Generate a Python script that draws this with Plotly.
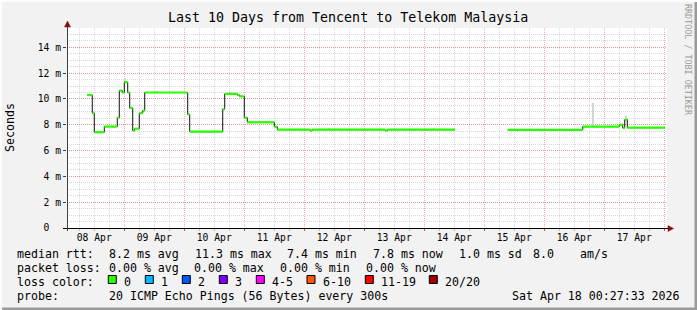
import plotly.graph_objects as go

# ---------------- data ----------------
# median RTT (ms) as step segments: value holds from time[i] to time[i+1]; None = no data
seg_times = [
    "2026-04-08 00:58", "2026-04-08 01:30", "2026-04-08 09:12", "2026-04-08 11:12",
    "2026-04-08 12:00", "2026-04-08 16:00", "2026-04-08 21:12", "2026-04-08 22:00",
    "2026-04-08 23:12", "2026-04-09 00:00", "2026-04-09 01:22", "2026-04-09 02:10",
    "2026-04-09 03:22", "2026-04-09 04:10", "2026-04-09 06:00", "2026-04-09 07:22",
    "2026-04-09 08:10", "2026-04-10 01:22", "2026-04-10 02:10", "2026-04-10 15:22",
    "2026-04-10 16:10", "2026-04-10 21:12", "2026-04-10 22:10", "2026-04-11 00:00",
    "2026-04-11 01:12", "2026-04-11 12:00", "2026-04-11 13:12", "2026-04-12 02:18",
    "2026-04-12 03:12", "2026-04-13 08:18", "2026-04-13 09:12", "2026-04-14 12:18",
    "2026-04-15 09:22", "2026-04-16 15:22", "2026-04-17 06:00", "2026-04-17 07:22",
    "2026-04-17 08:10", "2026-04-17 09:12", "2026-04-18 00:18",
]
seg_values = [
    10.0, None, 10.3, 8.9,
    7.42, 7.86, 8.55, 10.65,
    10.5, 11.3, 10.5, 9.3,
    7.55, 7.7, 8.9, 9.1,
    10.5, 8.8, 7.47, 9.2,
    10.4, 10.3, 10.2, 8.55,
    8.19, 7.85, 7.62, 7.55,
    7.62, 7.55, 7.62, None,
    7.6, 7.86, 8.0, 7.75,
    8.4, 7.78,
]

# smoke (spread of pings) – light grey bars
smoke_times = ["2026-04-09 00:30", "2026-04-16 19:30", "2026-04-17 08:40",
               "2026-04-09 13:00", "2026-04-12 10:00", "2026-04-13 12:00", "2026-04-14 04:00"]
smoke_lo = [11.3, 7.86, 8.4, 10.5, 7.62, 7.62, 7.62]
smoke_hi = [11.65, 9.65, 8.65, 10.6, 7.72, 7.74, 7.72]

y_tickvals = [0, 2, 4, 6, 8, 10, 12, 14]
y_ticktext = ["0\u00a0\u00a0", "2 m", "4 m", "6 m", "8 m", "10 m", "12 m", "14 m"]

title = "Last 10 Days from Tencent to Telekom Malaysia"
loss_labels = ["0", "1", "2", "3", "4-5", "6-10", "11-19", "20/20"]
loss_colors = ["#26ff00", "#00b8ff", "#0059ff", "#7e00ff", "#ff00ff", "#ff5500", "#ff0000", "#a10000"]

# ---------------- geometry helpers ----------------
W, H = 697, 310
L, R, T, B = 67, 667, 28, 228
def xp(px): return (px - L) / (R - L)
def yp(py): return (B - py) / (B - T)

MONO = "DejaVu Sans Mono"
MGRID = "rgba(232,72,72,0.45)"
GRID = "rgba(143,143,143,0.35)"
DASH = "1px,1px"

# ---------------- traces ----------------
fig = go.Figure()

# smoke
fig.add_trace(go.Bar(
    x=smoke_times, y=[h - l for h, l in zip(smoke_hi, smoke_lo)], base=smoke_lo,
    width=[2400000] * len(smoke_times), marker=dict(color="#d4d4d4", line=dict(width=0)),
    hoverinfo="skip", showlegend=False))

# black step line (with verticals)
bx, by = [], []
for i, v in enumerate(seg_values):
    t0, t1 = seg_times[i], seg_times[i + 1]
    if v is None:
        bx.append(None); by.append(None)
        continue
    bx += [t0, t1]; by += [v, v]
fig.add_trace(go.Scatter(x=bx, y=by, mode="lines", line=dict(color="#111111", width=1),
                         hoverinfo="skip", showlegend=False, connectgaps=False))

# green horizontal segments
gx, gy = [], []
for i, v in enumerate(seg_values):
    if v is None:
        continue
    gx += [seg_times[i], seg_times[i + 1], None]
    gy += [v, v, None]
fig.add_trace(go.Scatter(x=gx, y=gy, mode="lines", line=dict(color=loss_colors[0], width=2.2),
                         hoverinfo="skip", showlegend=False, connectgaps=False))

# ---------------- layout ----------------
shapes = []
# frame
shapes.append(dict(type="rect", xref="paper", yref="paper", x0=xp(0), x1=xp(W), y0=yp(H), y1=yp(0),
                   line=dict(width=0), fillcolor="#f2f2f2", layer="below"))
shapes.append(dict(type="rect", xref="paper", yref="paper", x0=xp(L), x1=xp(R), y0=yp(B), y1=yp(T),
                   line=dict(width=0), fillcolor="#ffffff", layer="below"))
shapes.append(dict(type="rect", xref="paper", yref="paper", x0=xp(694.5), x1=xp(697), y0=yp(310), y1=yp(0),
                   line=dict(width=0), fillcolor="#9a9a9a"))
shapes.append(dict(type="rect", xref="paper", yref="paper", x0=xp(0), x1=xp(697), y0=yp(310), y1=yp(307.5),
                   line=dict(width=0), fillcolor="#9a9a9a"))
shapes.append(dict(type="rect", xref="paper", yref="paper", x0=xp(0), x1=xp(697), y0=yp(2), y1=yp(0),
                   line=dict(width=0), fillcolor="#fcfcfc"))
shapes.append(dict(type="rect", xref="paper", yref="paper", x0=xp(0), x1=xp(2), y0=yp(310), y1=yp(0),
                   line=dict(width=0), fillcolor="#fcfcfc"))
# axes lines
shapes.append(dict(type="line", xref="paper", yref="paper", x0=xp(63), x1=xp(669), y0=yp(228.5), y1=yp(228.5),
                   line=dict(color="#000000", width=1)))
shapes.append(dict(type="line", xref="paper", yref="paper", x0=xp(67.5), x1=xp(67.5), y0=yp(231), y1=yp(25),
                   line=dict(color="#404040", width=1)))
# arrowheads
ac = "#7f1010"
shapes.append(dict(type="path", xref="paper", yref="paper",
                   path=f"M {xp(668)},{yp(225.5)} L {xp(673.5)},{yp(228.5)} L {xp(668)},{yp(231.5)} Z",
                   fillcolor=ac, line=dict(color=ac, width=0.5)))
shapes.append(dict(type="path", xref="paper", yref="paper",
                   path=f"M {xp(64.5)},{yp(27)} L {xp(67.5)},{yp(21)} L {xp(70.5)},{yp(27)} Z",
                   fillcolor=ac, line=dict(color=ac, width=0.5)))

annotations = []
def text(px, py, s, size=11.6, anchor="left", color="#000000"):
    annotations.append(dict(x=xp(px), y=yp(py), xref="paper", yref="paper", text=s, showarrow=False,
                            xanchor=anchor, yanchor="middle", borderpad=0,
                            font=dict(family=MONO, size=size, color=color)))

text(348, 18, title, size=13.3, anchor="center")
annotations.append(dict(x=xp(10), y=yp(128), xref="paper", yref="paper", text="Seconds", showarrow=False,
                        textangle=-90, xanchor="center", yanchor="middle",
                        font=dict(family=MONO, size=11.6, color="#000000")))
annotations.append(dict(x=xp(688), y=yp(60), xref="paper", yref="paper", text="RRDTOOL / TOBI OETIKER",
                        showarrow=False, textangle=90, xanchor="center", yanchor="middle",
                        font=dict(family=MONO, size=8.4, color="#9a9a9a")))

# legend lines
text(16, 254, "median rtt:")
for px, s in [(107.6, "8.2 ms avg"), (193.8, "11.3 ms max"), (285.8, "7.4 ms min"),
              (371.6, "7.8 ms now"), (458.2, "1.0 ms sd"), (532, "8.0"), (578.7, "am/s")]:
    text(px, 254, s)
text(16, 268, "packet loss:")
for px, s in [(107.6, "0.00 % avg"), (192.9, "0.00 % max"), (279, "0.00 % min"), (364.9, "0.00 % now")]:
    text(px, 268, s)
text(16, 282, "loss color:")
sq_x = [108.3, 145.3, 182.3, 219.3, 256.3, 307.0, 365.3, 429.3]
for sx, lab, col in zip(sq_x, loss_labels, loss_colors):
    shapes.append(dict(type="rect", xref="paper", yref="paper", x0=xp(sx), x1=xp(sx + 8), y0=yp(283.5), y1=yp(275.5),
                       fillcolor=col, line=dict(color="#000000", width=1)))
    text(sx + 15, 282, lab)
text(16, 296, "probe:")
text(107.6, 296, "20 ICMP Echo Pings (56 Bytes) every 300s")
text(681, 296, "Sat Apr 18 00:27:33 2026", anchor="right")

fig.update_layout(
    width=W, height=H,
    margin=dict(l=L, r=W - R, t=T, b=H - B, pad=0),
    paper_bgcolor="#f2f2f2", plot_bgcolor="#ffffff",
    showlegend=False, bargap=0,
    shapes=shapes, annotations=annotations,
    xaxis=dict(
        type="date", range=["2026-04-08 01:05", "2026-04-18 01:05"],
        tick0="2026-04-08", dtick=86400000, ticklabelmode="period", tickformat="%d %b",
        showgrid=True, gridcolor=MGRID, griddash=DASH, gridwidth=1,
        ticks="outside", ticklen=2, tickcolor="#e05050", ticklabelstandoff=-2,
        tickfont=dict(family=MONO, size=9.7, color="#000000"),
        minor=dict(dtick=21600000, tick0="2026-04-08", showgrid=True, gridcolor=GRID,
                   griddash=DASH, gridwidth=1, ticks="outside", ticklen=2, tickcolor="#bbbbbb"),
        showline=False, zeroline=False, fixedrange=True,
    ),
    yaxis=dict(
        range=[0, 15.5], tickvals=y_tickvals, ticktext=y_ticktext,
        showgrid=True, gridcolor=MGRID, griddash=DASH, gridwidth=1,
        ticks="outside", ticklen=3, tickcolor="#404040",
        tickfont=dict(family=MONO, size=9.7, color="#000000"),
        minor=dict(dtick=0.5, tick0=0, showgrid=True, gridcolor=GRID, griddash=DASH, gridwidth=1),
        showline=False, zeroline=False, fixedrange=True,
    ),
)

fig.write_html("out.html")
